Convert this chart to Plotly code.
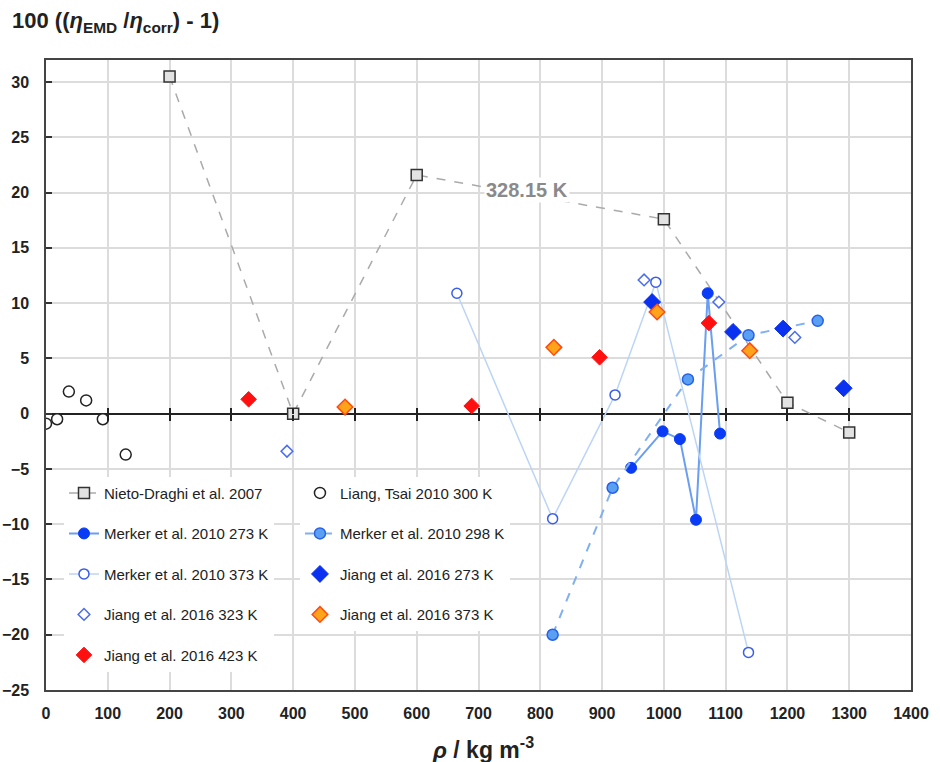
import plotly.graph_objects as go

# ---- data ----
nieto_x = [200, 400, 600, 1000, 1200, 1300]
nieto_y = [30.5, 0.0, 21.6, 17.6, 1.0, -1.7]

liang_x = [0, 18, 37, 65, 92, 129]
liang_y = [-0.9, -0.5, 2.0, 1.2, -0.5, -3.7]

m273_x = [947, 998, 1026, 1052, 1071, 1091]
m273_y = [-4.9, -1.6, -2.3, -9.6, 10.9, -1.8]

m298_x = [820, 917, 1039, 1137, 1249]
m298_y = [-20.0, -6.7, 3.1, 7.1, 8.4]

m373_x = [665, 820, 921, 987, 1137]
m373_y = [10.9, -9.5, 1.7, 11.9, -21.6]

j273_x = [981, 1112, 1193, 1291]
j273_y = [10.1, 7.4, 7.7, 2.3]

j323_x = [390, 968, 1089, 1212]
j323_y = [-3.4, 12.1, 10.1, 6.9]

j373_x = [484, 822, 989, 1139]
j373_y = [0.6, 6.0, 9.2, 5.7]

j423_x = [328, 689, 896, 1073]
j423_y = [1.3, 0.7, 5.1, 8.2]

x_ticks = list(range(0, 1401, 100))
y_ticks = list(range(-25, 31, 5))
x_range = [0, 1400]
y_range = [-25, 32]

FONT = "Liberation Sans, Arial, sans-serif"

fig = go.Figure()

def add(name, x, y, mode, marker, line=None, legend="legend", idx=0):
    fig.add_trace(go.Scatter(
        x=x, y=y, name=name, mode=mode, marker=marker, line=line,
        legend=legend, legendgroup=f"g{idx}", showlegend=True))

add("Nieto-Draghi et al. 2007", nieto_x, nieto_y, "lines+markers",
    dict(symbol="square", size=11, color="#e2e2e2", line=dict(color="#333333", width=1.5)),
    dict(color="#aaaaaa", width=1.5, dash="dash"), "legend", 1)
add("Liang, Tsai 2010 300 K", liang_x, liang_y, "markers",
    dict(symbol="circle", size=11, color="white", line=dict(color="#222222", width=1.5)),
    None, "legend2", 2)
add("Merker et al. 2010 273 K", m273_x, m273_y, "lines+markers",
    dict(symbol="circle", size=11, color="#0a3cf5", line=dict(color="#0a3cf5", width=1)),
    dict(color="#6a9ef0", width=2), "legend", 3)
add("Merker et al. 2010 298 K", m298_x, m298_y, "lines+markers",
    dict(symbol="circle", size=11, color="#5aa0f2", line=dict(color="#2860e8", width=1.5)),
    dict(color="#80b0f0", width=2, dash="dash"), "legend2", 4)
add("Merker et al. 2010 373 K", m373_x, m373_y, "lines+markers",
    dict(symbol="circle", size=10, color="white", line=dict(color="#3a5eea", width=1.5)),
    dict(color="#bcd5f5", width=1.5), "legend", 5)
add("Jiang et al. 2016 273 K", j273_x, j273_y, "markers",
    dict(symbol="diamond", size=13, color="#0a30f0", line=dict(color="#0a30f0", width=1)),
    None, "legend2", 6)
add("Jiang et al. 2016 323 K", j323_x, j323_y, "markers",
    dict(symbol="diamond", size=9, color="white", line=dict(color="#4a6cf0", width=1.5)),
    None, "legend", 7)
add("Jiang et al. 2016 373 K", j373_x, j373_y, "markers",
    dict(symbol="diamond", size=12, color="#ffa31a", line=dict(color="#ff4a10", width=1.5)),
    None, "legend2", 8)
add("Jiang et al. 2016 423 K", j423_x, j423_y, "markers",
    dict(symbol="diamond", size=12, color="#ff1010", line=dict(color="#ff1010", width=1)),
    None, "legend", 9)

y0_pos = (0 - y_range[0]) / (y_range[1] - y_range[0])

fig.update_layout(
    width=940, height=762,
    margin=dict(l=46, r=29, t=60, b=72),
    paper_bgcolor="white", plot_bgcolor="white",
    font=dict(family=FONT, size=15, color="#222222"),
    xaxis=dict(range=x_range, tickvals=x_ticks, showgrid=True, gridcolor="#dcdcdc", gridwidth=1.5,
               showline=True, linecolor="#444444", linewidth=1.5, mirror=True,
               ticks="", zeroline=False, automargin=False,
               tickfont=dict(family=FONT, size=16, color="#222222", weight="bold"),
               ticklabelstandoff=8),
    yaxis=dict(range=y_range, tickvals=y_ticks, showgrid=True, gridcolor="#dcdcdc", gridwidth=1.5,
               showline=True, linecolor="#444444", linewidth=1.5, mirror=True,
               ticks="inside", ticklen=6, tickwidth=1.5, tickcolor="#333333",
               zeroline=True, zerolinecolor="#222222", zerolinewidth=2, automargin=False,
               tickfont=dict(family=FONT, size=16, color="#222222", weight="bold"),
               ticklabelstandoff=12),
    xaxis2=dict(overlaying="x", anchor="free", position=y0_pos, range=x_range, tickvals=x_ticks[1:-1],
                ticks="outside", ticklen=6, tickwidth=1.5, tickcolor="#222222", showgrid=False,
                showticklabels=False, showline=False, zeroline=False, automargin=False),
    xaxis3=dict(overlaying="x", anchor="free", position=y0_pos, range=x_range, tickvals=x_ticks[1:-1],
                ticks="inside", ticklen=6, tickwidth=1.5, tickcolor="#222222", showgrid=False,
                showticklabels=False, showline=False, zeroline=False, automargin=False),
    legend=dict(x=0.0208, y=0.3386, xanchor="left", yanchor="top", bgcolor="white",
                font=dict(size=15), tracegroupgap=18, itemwidth=30),
    legend2=dict(x=0.2936, y=0.3386, xanchor="left", yanchor="top", bgcolor="white",
                 font=dict(size=15), tracegroupgap=18, itemwidth=30),
    showlegend=True,
)

# invisible helper traces so the zero-line tick axes are rendered
for ax in ["x2", "x3"]:
    fig.add_trace(go.Scatter(x=[x_range[0]], y=[y_range[0]], xaxis=ax, yaxis="y", mode="markers",
                             marker=dict(opacity=0), showlegend=False, hoverinfo="skip"))

fig.add_annotation(x=778, y=20.2, text="<b>328.15 K</b>", showarrow=False,
                   font=dict(size=20, color="#8a8a8a"), bgcolor="white")
# y-axis title (top-left)
fig.add_annotation(xref="paper", yref="paper", x=-0.042, y=1.0, yshift=38, xanchor="left", yanchor="middle",
                   text="<b>100 ((<i>η</i><sub>EMD</sub> /<i>η</i><sub>corr</sub>) - 1)</b>",
                   showarrow=False, font=dict(size=22, color="#222222"))
# x-axis title
fig.add_annotation(xref="paper", yref="paper", x=(483 - 46) / 865, y=0, yshift=-58, xanchor="center", yanchor="middle",
                   text="<b><i>ρ</i> / kg m<sup>-3</sup></b>",
                   showarrow=False, font=dict(size=23, color="#222222"))

fig.write_html("out.html")
